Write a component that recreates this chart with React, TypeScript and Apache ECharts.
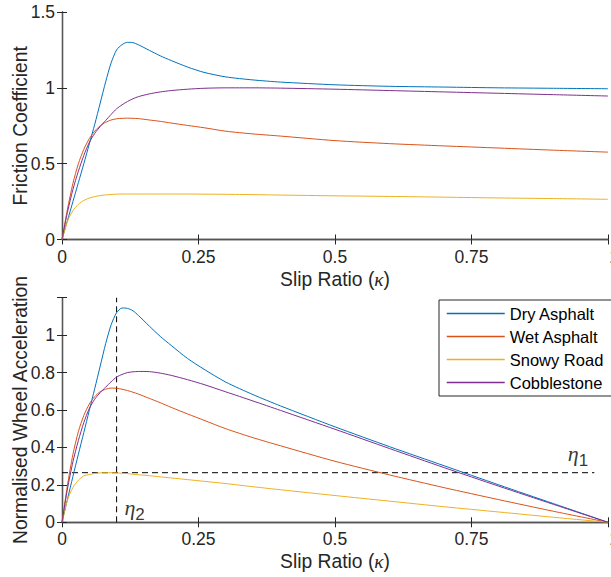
import React, { useEffect, useRef } from "react";
import * as echarts from "echarts";

const KAPPA = [0, 0.01, 0.02, 0.03, 0.04, 0.05, 0.06, 0.07, 0.08, 0.09, 0.1, 0.11, 0.12, 0.13, 0.14, 0.16, 0.18, 0.2, 0.23, 0.26, 0.3, 0.35, 0.4, 0.5, 0.6, 0.7, 0.8, 0.9, 1.0];

const SURFACES = ["Dry Asphalt", "Wet Asphalt", "Snowy Road", "Cobblestone"];
const COLORS = ["#0072BD", "#D95319", "#EDB120", "#7E2F8E"];

// Friction coefficient (top)
const DRY_MU = [0, 0.125, 0.25, 0.375, 0.5, 0.63, 0.76, 0.9, 1.04, 1.165, 1.25, 1.285, 1.3, 1.298, 1.284, 1.247, 1.211, 1.18, 1.137, 1.102, 1.072, 1.052, 1.038, 1.02, 1.01, 1.005, 1.0, 0.997, 0.994];
const WET_MU = [0, 0.2, 0.37, 0.5, 0.595, 0.665, 0.715, 0.75, 0.773, 0.788, 0.796, 0.799, 0.8, 0.799, 0.797, 0.788, 0.779, 0.768, 0.752, 0.737, 0.714, 0.696, 0.682, 0.652, 0.632, 0.617, 0.603, 0.589, 0.576];
const SNOW_MU = [0, 0.12, 0.19, 0.232, 0.258, 0.273, 0.283, 0.29, 0.294, 0.297, 0.299, 0.3, 0.3, 0.3, 0.3, 0.3, 0.3, 0.3, 0.3, 0.299, 0.298, 0.296, 0.293, 0.288, 0.284, 0.279, 0.274, 0.27, 0.265];
const COBBLE_MU = [0, 0.18, 0.33, 0.45, 0.555, 0.64, 0.7, 0.745, 0.785, 0.825, 0.862, 0.888, 0.91, 0.928, 0.942, 0.96, 0.973, 0.982, 0.991, 0.997, 1.0, 1.0, 0.998, 0.991, 0.982, 0.973, 0.964, 0.955, 0.946];

// Normalised wheel acceleration (bottom)
const DRY_ACC = [0, 0.123, 0.245, 0.364, 0.48, 0.598, 0.715, 0.835, 0.955, 1.055, 1.12, 1.145, 1.143, 1.13, 1.105, 1.048, 0.993, 0.945, 0.875, 0.818, 0.749, 0.682, 0.622, 0.51, 0.404, 0.302, 0.2, 0.1, 0];
const WET_ACC = [0, 0.198, 0.363, 0.485, 0.571, 0.632, 0.672, 0.698, 0.711, 0.717, 0.716, 0.711, 0.704, 0.695, 0.685, 0.662, 0.639, 0.614, 0.579, 0.545, 0.5, 0.452, 0.409, 0.326, 0.253, 0.185, 0.121, 0.059, 0];
const SNOW_ACC = [0, 0.119, 0.186, 0.225, 0.248, 0.255, 0.261, 0.264, 0.265, 0.265, 0.264, 0.262, 0.26, 0.257, 0.254, 0.249, 0.243, 0.237, 0.228, 0.219, 0.207, 0.19, 0.174, 0.143, 0.113, 0.083, 0.055, 0.027, 0];
const COBBLE_ACC = [0, 0.178, 0.323, 0.437, 0.533, 0.608, 0.658, 0.693, 0.722, 0.751, 0.776, 0.79, 0.8, 0.804, 0.806, 0.805, 0.797, 0.785, 0.762, 0.736, 0.697, 0.648, 0.598, 0.497, 0.394, 0.292, 0.193, 0.096, 0];

const MU_SERIES = [DRY_MU, WET_MU, SNOW_MU, COBBLE_MU];
const ACC_SERIES = [DRY_ACC, WET_ACC, SNOW_ACC, COBBLE_ACC];

const ETA1 = 0.265;
const ETA1_END = 0.975;
const ETA2 = 0.1;
const ACC_MAX = 1.2;
const ETA_LABELS = [
  { name: "1", pos: [0.945, 0.355] },
  { name: "2", pos: [0.133, 0.068] },
];

const FONT = "'Liberation Sans', Arial, Helvetica, sans-serif";
const SERIF = "'Liberation Serif', 'DejaVu Serif', serif";
const AX = "#262626";
const AXLINE = "#555555";
const TICK_FS = 17.5;
const TITLE_FS = 19.3;

function xAxes(grid: number) {
  const common = {
    gridIndex: grid,
    type: "value",
    min: 0,
    max: 1,
    interval: 0.25,
    splitLine: { show: false },
    axisLine: { show: true, lineStyle: { color: AXLINE, width: 1.3 } },
    axisTick: { show: true, inside: true, length: 5, lineStyle: { color: AX } },
  };
  return [
    {
      ...common,
      position: "bottom",
      axisLabel: {
        fontSize: TICK_FS,
        color: AX,
        margin: 8,
        fontFamily: FONT,
        formatter: (v: number) => (v === 1 ? "{r|1}" : String(v)),
        rich: { r: { fontSize: TICK_FS, color: AX, fontFamily: FONT, padding: [0, 0, 0, 12] } },
      },
      name: "Slip Ratio ({k|κ})",
      nameLocation: "middle",
      nameGap: 30,
      nameMoveOverlap: false,
      nameTextStyle: {
        fontSize: TITLE_FS,
        color: AX,
        fontFamily: FONT,
        rich: {
          k: { fontSize: TITLE_FS, fontStyle: "italic", fontFamily: SERIF, color: AX },
        },
      },
    },
    { ...common, position: "top", axisLabel: { show: false } },
  ];
}

function yAxes(grid: number, max: number, interval: number, name: string) {
  const common = {
    gridIndex: grid,
    type: "value",
    min: 0,
    max,
    interval,
    splitLine: { show: false },
    axisLine: { show: true, lineStyle: { color: AXLINE, width: 1.3 } },
    axisTick: { show: true, inside: true, length: 5, lineStyle: { color: AX } },
  };
  return [
    {
      ...common,
      position: "left",
      axisLabel: {
        fontSize: TICK_FS,
        color: AX,
        margin: 7,
        fontFamily: FONT,
        formatter: (v: number) => (grid === 1 && v > max - 1e-6 ? "" : String(Number(v.toFixed(2)))),
      },
      name,
      nameLocation: "middle",
      nameGap: 32,
      nameMoveOverlap: false,
      nameRotate: 90,
      nameTextStyle: { fontSize: TITLE_FS, color: AX, fontFamily: FONT },
    },
    { ...common, position: "right", axisLabel: { show: false } },
  ];
}

export default function App() {
  const ref = useRef<HTMLDivElement>(null);
  useEffect(() => {
    if (!ref.current) return;
    const chart = echarts.init(ref.current, undefined, { renderer: "svg" });
    const lineSeries: any[] = [];
    const addCurves = (values: number[][], xi: number, yi: number) => {
      SURFACES.forEach((name, i) => {
        lineSeries.push({
          name,
          type: "line",
          xAxisIndex: xi,
          yAxisIndex: yi,
          data: KAPPA.map((k, j) => [k, values[i][j]]),
          symbol: "none",
          smooth: 0.25,
          lineStyle: { color: COLORS[i], width: 1 },
          itemStyle: { color: COLORS[i] },
          silent: true,
        });
      });
    };
    addCurves(MU_SERIES, 0, 0);
    addCurves(ACC_SERIES, 2, 2);

    const dashed = { color: "#000", width: 1, type: [6, 4] };
    lineSeries.push({
      type: "line",
      xAxisIndex: 2,
      yAxisIndex: 2,
      data: [[0, ETA1], [ETA1_END, ETA1]],
      symbol: "none",
      lineStyle: dashed,
      silent: true,
      z: 1,
    });
    lineSeries.push({
      type: "line",
      xAxisIndex: 2,
      yAxisIndex: 2,
      data: [[ETA2, 0], [ETA2, ACC_MAX]],
      symbol: "none",
      lineStyle: dashed,
      silent: true,
      z: 1,
    });
    lineSeries.push({
      type: "scatter",
      xAxisIndex: 2,
      yAxisIndex: 2,
      symbolSize: 1,
      itemStyle: { color: "rgba(0,0,0,0)" },
      silent: true,
      data: ETA_LABELS.map((e) => ({ value: e.pos, name: e.name })),
      label: {
        show: true,
        position: "inside",
        formatter: (p: any) => `{e|η}{s|${p.name}}`,
        rich: {
          e: { fontSize: 22, fontStyle: "italic", fontFamily: SERIF, color: "#000", lineHeight: 26, verticalAlign: "top" },
          s: { fontSize: 17, fontFamily: FONT, color: "#000", lineHeight: 26, verticalAlign: "bottom", padding: [12, 0, 0, 0] },
        },
      },
    });

    chart.setOption({
      animation: false,
      backgroundColor: "#fff",
      textStyle: { fontFamily: FONT },
      grid: [
        { left: 62, top: 12, width: 546, height: 227.5, outerBoundsMode: "none", containLabel: false },
        { left: 62, top: 297.7, width: 546, height: 224.6, outerBoundsMode: "none", containLabel: false },
      ],
      xAxis: [...xAxes(0), ...xAxes(1)],
      yAxis: [
        ...yAxes(0, 1.5, 0.5, "Friction Coefficient"),
        ...yAxes(1, ACC_MAX, 0.2, "Normalised Wheel Acceleration"),
      ],
      legend: {
        data: SURFACES,
        orient: "vertical",
        left: 439,
        top: 300,
        itemWidth: 58,
        itemHeight: 14,
        itemGap: 6,
        padding: [5, 10, 5, 7],
        borderColor: AX,
        borderWidth: 1,
        borderRadius: 0,
        backgroundColor: "#fff",
        selectedMode: false,
        itemStyle: { opacity: 0 },
        lineStyle: { width: 1.5 },
        textStyle: { fontSize: 16.5, color: "#000", fontFamily: FONT },
      },
      series: lineSeries,
    });
    return () => chart.dispose();
  }, []);
  return <div ref={ref} style={{ position: "absolute", left: 0, top: 0, width: 611, height: 577 }} />;
}
